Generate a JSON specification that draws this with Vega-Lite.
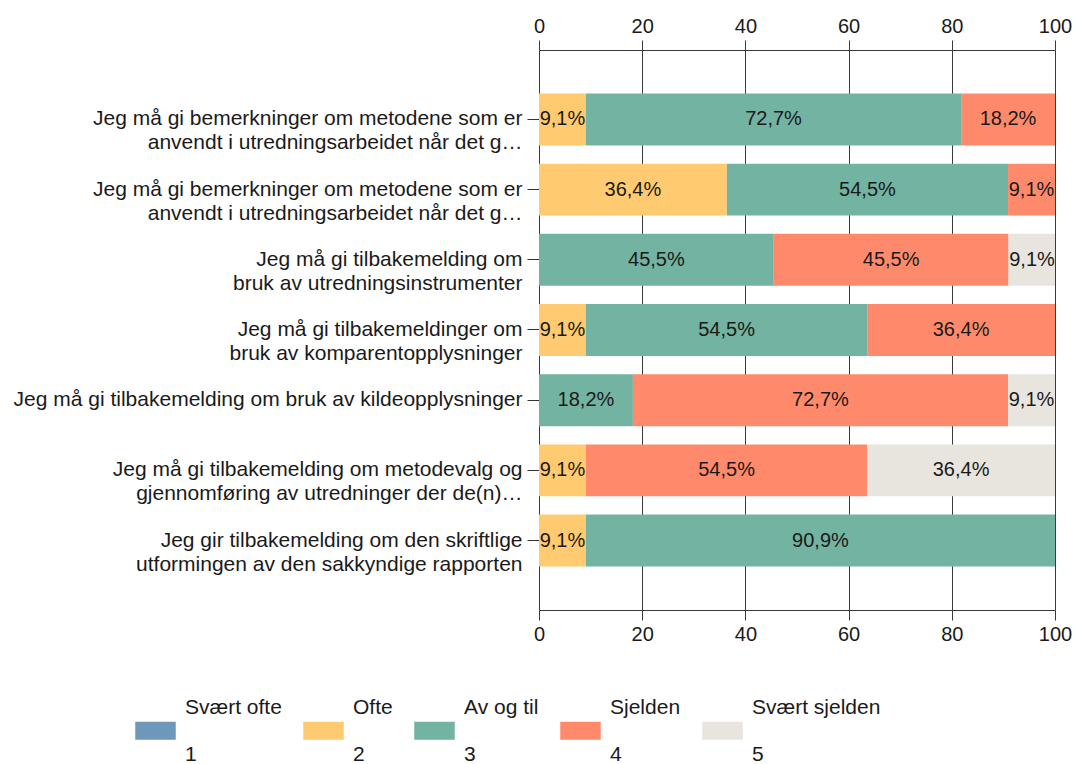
{
  "$schema": "https://vega.github.io/schema/vega-lite/v6.json",
  "width": 516,
  "height": 560,
  "padding": {"left": 13, "top": 16, "right": 6, "bottom": 2},
  "background": "white",
  "config": {
    "view": {"stroke": null},
    "font": "Liberation Sans",
    "axis": {"labelColor": "#1a1a1a", "labelFont": "Liberation Sans", "title": null}
  },
  "data": {
    "values": [
      {"sporsmal": "Jeg må gi bemerkninger om metodene som er|anvendt i utredningsarbeidet når det g…#1", "svar": "Ofte", "nr": 2, "verdi": 9.1},
      {"sporsmal": "Jeg må gi bemerkninger om metodene som er|anvendt i utredningsarbeidet når det g…#1", "svar": "Av og til", "nr": 3, "verdi": 72.7},
      {"sporsmal": "Jeg må gi bemerkninger om metodene som er|anvendt i utredningsarbeidet når det g…#1", "svar": "Sjelden", "nr": 4, "verdi": 18.2},
      {"sporsmal": "Jeg må gi bemerkninger om metodene som er|anvendt i utredningsarbeidet når det g…#2", "svar": "Ofte", "nr": 2, "verdi": 36.4},
      {"sporsmal": "Jeg må gi bemerkninger om metodene som er|anvendt i utredningsarbeidet når det g…#2", "svar": "Av og til", "nr": 3, "verdi": 54.5},
      {"sporsmal": "Jeg må gi bemerkninger om metodene som er|anvendt i utredningsarbeidet når det g…#2", "svar": "Sjelden", "nr": 4, "verdi": 9.1},
      {"sporsmal": "Jeg må gi tilbakemelding om|bruk av utredningsinstrumenter", "svar": "Av og til", "nr": 3, "verdi": 45.5},
      {"sporsmal": "Jeg må gi tilbakemelding om|bruk av utredningsinstrumenter", "svar": "Sjelden", "nr": 4, "verdi": 45.5},
      {"sporsmal": "Jeg må gi tilbakemelding om|bruk av utredningsinstrumenter", "svar": "Svært sjelden", "nr": 5, "verdi": 9.1},
      {"sporsmal": "Jeg må gi tilbakemeldinger om|bruk av komparentopplysninger", "svar": "Ofte", "nr": 2, "verdi": 9.1},
      {"sporsmal": "Jeg må gi tilbakemeldinger om|bruk av komparentopplysninger", "svar": "Av og til", "nr": 3, "verdi": 54.5},
      {"sporsmal": "Jeg må gi tilbakemeldinger om|bruk av komparentopplysninger", "svar": "Sjelden", "nr": 4, "verdi": 36.4},
      {"sporsmal": "Jeg må gi tilbakemelding om bruk av kildeopplysninger", "svar": "Av og til", "nr": 3, "verdi": 18.2},
      {"sporsmal": "Jeg må gi tilbakemelding om bruk av kildeopplysninger", "svar": "Sjelden", "nr": 4, "verdi": 72.7},
      {"sporsmal": "Jeg må gi tilbakemelding om bruk av kildeopplysninger", "svar": "Svært sjelden", "nr": 5, "verdi": 9.1},
      {"sporsmal": "Jeg må gi tilbakemelding om metodevalg og|gjennomføring av utredninger der de(n)…", "svar": "Ofte", "nr": 2, "verdi": 9.1},
      {"sporsmal": "Jeg må gi tilbakemelding om metodevalg og|gjennomføring av utredninger der de(n)…", "svar": "Sjelden", "nr": 4, "verdi": 54.5},
      {"sporsmal": "Jeg må gi tilbakemelding om metodevalg og|gjennomføring av utredninger der de(n)…", "svar": "Svært sjelden", "nr": 5, "verdi": 36.4},
      {"sporsmal": "Jeg gir tilbakemelding om den skriftlige|utformingen av den sakkyndige rapporten", "svar": "Ofte", "nr": 2, "verdi": 9.1},
      {"sporsmal": "Jeg gir tilbakemelding om den skriftlige|utformingen av den sakkyndige rapporten", "svar": "Av og til", "nr": 3, "verdi": 90.9}
    ]
  },
  "transform": [
    {"stack": "verdi", "groupby": ["sporsmal"], "sort": [{"field": "nr", "order": "ascending"}], "as": ["v0", "v1"]},
    {"calculate": "(datum.v0 + datum.v1) / 2", "as": "midt"},
    {"calculate": "replace(format(datum.verdi, '.1f'), '.', ',') + '%'", "as": "etikett"}
  ],
  "encoding": {
    "y": {
      "field": "sporsmal",
      "type": "nominal",
      "sort": null,
      "scale": {"paddingInner": 0.26, "paddingOuter": 0.62},
      "axis": {
        "domain": false,
        "ticks": true,
        "tickSize": 12,
        "tickColor": "#333333",
        "labelPadding": 5,
        "labelFontSize": 21,
        "labelLimit": 0,
        "labelLineHeight": 24,
        "labelExpr": "split(replace(datum.label, /#[0-9]$/, ''), '|')"
      }
    }
  },
  "layer": [
    {
      "mark": {"type": "bar", "opacity": 1},
      "encoding": {
        "x": {
          "field": "v0",
          "type": "quantitative",
          "scale": {"domain": [0, 100], "nice": false, "clamp": true},
          "axis": {
            "orient": "bottom",
            "values": [0, 20, 40, 60, 80, 100],
            "grid": true,
            "gridColor": "#3a3a3a",
            "gridOpacity": 1,
            "domainColor": "#3a3a3a",
            "tickColor": "#3a3a3a",
            "tickSize": 10,
            "labelFontSize": 20,
            "labelPadding": 4,
            "labelFlush": false
          }
        },
        "x2": {"field": "v1"},
        "color": {
          "field": "svar",
          "type": "nominal",
          "scale": {
            "domain": ["Svært ofte", "Ofte", "Av og til", "Sjelden", "Svært sjelden"],
            "range": ["#6d98ba", "#ffca70", "#73b3a1", "#ff8a6b", "#e8e5de"]
          },
          "legend": {
            "orient": "none",
            "legendX": -404,
            "legendY": 660,
            "direction": "horizontal",
            "title": null,
            "symbolType": "M-1,-0.45H1V0.45H-1Z",
            "symbolSize": 1640,
            "symbolStrokeWidth": 0,
            "symbolOpacity": 1,
            "labelFontSize": 21,
            "labelColor": "#1a1a1a",
            "labelOffset": 9,
            "columnPadding": 21,
            "labelLimit": 0,
            "labelExpr": "[datum.label, '\u00a0\u00a0\u00a0' + (indexof(['Svært ofte','Ofte','Av og til','Sjelden','Svært sjelden'], datum.label) + 1)]",
            "encode": {"labels": {"update": {"lineHeight": {"value": 47}, "dy": {"value": -23}}}}
          }
        }
      }
    },
    {
      "mark": {"type": "text", "fontSize": 20, "color": "#1a1a1a", "align": "center", "baseline": "middle"},
      "encoding": {
        "x": {
          "field": "midt",
          "type": "quantitative",
          "axis": {
            "orient": "top",
            "values": [0, 20, 40, 60, 80, 100],
            "grid": false,
            "domainColor": "#3a3a3a",
            "tickColor": "#3a3a3a",
            "tickSize": 10,
            "labelFontSize": 20,
            "labelPadding": 4,
            "labelFlush": false
          }
        },
        "text": {"field": "etikett"}
      }
    }
  ],
  "resolve": {"axis": {"x": "independent"}}
}
